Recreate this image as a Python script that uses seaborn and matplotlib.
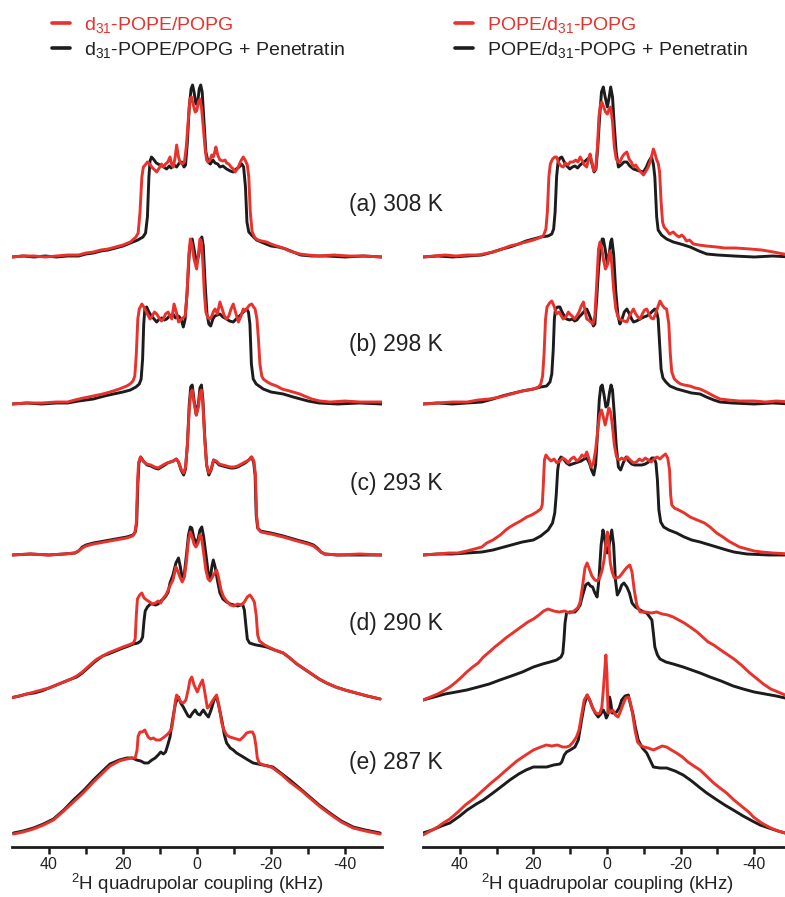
import numpy as np
import pandas as pd
import matplotlib
matplotlib.use("Agg")
import matplotlib.pyplot as plt
import seaborn as sns
from matplotlib.lines import Line2D

sns.set_theme(style="white")
plt.rcParams["font.family"] = ["Liberation Sans", "DejaVu Sans"]
plt.rcParams["mathtext.fontset"] = "custom"
plt.rcParams["mathtext.rm"] = "Liberation Sans"

RED = "#e8322b"
BLACK = "#1c1c1c"

# Row labels (temperature series) and vertical stacking of the spectra
row_labels = ["(a) 308 K", "(b) 298 K", "(c) 293 K", "(d) 290 K", "(e) 287 K"]
row_offsets = [590, 443, 292, 142, 7]

tick_values = [40, 30, 20, 10, 0, -10, -20, -30, -40]
tick_labels = ["40", "", "20", "", "0", "", "-20", "", "-40"]

# ---- d31-POPE/POPG (left column): (quadrupolar coupling kHz, intensity) ----
pope_308 = [(50, 0), (47, 1), (44, 1), (41, 0), (38, 1), (35, 2), (32, 2), (30, 4), (28, 5), (26, 7),
            (24, 8), (22, 10), (20, 12), (18, 15), (16.5, 20), (15.9, 24), (15.4, 45), (14.9, 80),
            (14.5, 90), (14.0, 92), (13.4, 95), (12.8, 93), (12, 89), (11.4, 87), (10.9, 85),
            (10.2, 89), (9.6, 93), (9.1, 90), (8.5, 93), (7.9, 95), (7.3, 100), (6.8, 92), (6.4, 90),
            (5.9, 100), (5.5, 112), (5.0, 100), (4.6, 95), (4.0, 93), (3.4, 95), (2.9, 110),
            (2.4, 135), (1.9, 158), (1.5, 160), (1.0, 152), (0.5, 145), (0.1, 146), (-0.4, 155),
            (-0.8, 158), (-1.2, 150), (-1.7, 130), (-2.2, 108), (-2.6, 97), (-3.0, 95), (-3.5, 97),
            (-4.0, 102), (-4.4, 100), (-4.8, 105), (-5.1, 110), (-5.6, 102), (-6.2, 97), (-7.0, 96),
            (-7.6, 97), (-8.0, 94), (-8.6, 93), (-9.2, 90), (-9.8, 88), (-10.3, 85), (-10.9, 88),
            (-11.5, 93), (-12.0, 97), (-12.5, 100), (-13.0, 97), (-13.6, 92), (-14.0, 80),
            (-14.4, 45), (-14.9, 25), (-15.7, 19), (-16.5, 17), (-17.5, 16), (-18.8, 15), (-20, 13),
            (-21.5, 11), (-23.3, 9), (-25, 6), (-27.8, 3), (-30, 2), (-33, 1), (-37, 2), (-41, 1),
            (-45, 1), (-50, 0)]
pope_pen_308 = [(50, 0), (47, 1), (44, 0), (41, 1), (38, 0), (35, 1), (32, 1), (30, 3), (28, 4), (26, 6),
                (24, 7), (22, 9), (20, 11), (18, 14), (16, 17), (14.6, 20), (13.9, 24), (13.4, 40),
                (13.0, 80), (12.7, 96), (12.3, 100), (11.8, 98), (11, 94), (10, 92), (9, 90), (8.2, 88),
                (7.5, 91), (7, 89), (6.2, 92), (5.5, 90), (4.8, 94), (4.1, 95), (3.5, 90), (3.1, 92),
                (2.6, 115), (2.1, 150), (1.6, 168), (1.2, 172), (0.8, 165), (0.3, 153), (-0.2, 155),
                (-0.6, 168), (-1.0, 172), (-1.4, 165), (-1.9, 135), (-2.4, 105), (-3.0, 95), (-3.6, 93),
                (-4.3, 97), (-4.9, 94), (-5.6, 93), (-6.2, 90), (-7, 91), (-8, 88), (-9, 86), (-9.8, 85),
                (-10.6, 88), (-11.4, 90), (-12.1, 93), (-12.6, 90), (-13.1, 70), (-13.5, 35), (-14, 25),
                (-15, 21), (-16.1, 17), (-18, 14), (-20, 11), (-22, 10), (-24, 8), (-26, 5), (-28, 2),
                (-31, 1), (-35, 1), (-40, 0), (-45, 1), (-50, 0)]

pope_298 = [(50, 0), (46, 1), (42, 1), (38, 2), (35, 2), (33, 4), (30.7, 6), (28, 8), (25.5, 10),
            (23.5, 12), (21, 15), (19, 18), (18.1, 20), (17.3, 23), (16.8, 28), (16.4, 50), (16.0, 85),
            (15.6, 95), (14.9, 100), (14.2, 96), (13.4, 90), (12.7, 85), (12.1, 88), (11.5, 92),
            (10.9, 90), (10.2, 86), (9.6, 83), (9.1, 85), (8.5, 90), (7.8, 92), (7.3, 88), (6.8, 85),
            (6.2, 100), (5.6, 92), (5, 82), (4.4, 84), (3.8, 86), (3.2, 88), (2.7, 110), (2.2, 150),
            (1.8, 165), (1.4, 160), (0.8, 145), (0.1, 135), (-0.4, 150), (-0.8, 165), (-1.2, 162),
            (-1.6, 140), (-2.0, 110), (-2.4, 92), (-3.0, 86), (-3.5, 85), (-4.0, 88), (-4.5, 93),
            (-4.9, 95), (-5.5, 90), (-6.2, 102), (-6.8, 95), (-7.4, 88), (-8, 85), (-8.6, 88),
            (-9.2, 95), (-9.8, 100), (-10.4, 92), (-11.2, 82), (-11.9, 88), (-12.5, 95), (-13, 93),
            (-13.6, 96), (-14.2, 99), (-14.8, 100), (-15.3, 97), (-15.7, 95), (-16.2, 85), (-16.6, 65),
            (-17.0, 40), (-17.5, 28), (-17.9, 25), (-19, 22), (-20, 20), (-21.5, 18), (-23, 15),
            (-25, 13), (-27.8, 10), (-29, 8), (-31, 5), (-33.2, 3), (-36, 2), (-40, 3), (-44, 2),
            (-47, 2), (-50, 2)]
pope_pen_298 = [(50, 0), (46, 1), (42, 0), (38, 1), (35, 1), (32, 3), (30, 4), (28, 5), (25, 8),
                (22.6, 10), (20, 12), (18, 14), (16.5, 17), (15.6, 20), (15.1, 25), (14.7, 45),
                (14.4, 80), (14.1, 95), (13.6, 97), (13, 92), (12.3, 88), (11.6, 85), (10.9, 82),
                (10.2, 85), (9.5, 86), (8.8, 84), (8.2, 85), (7.4, 88), (6.5, 90), (5.8, 86), (5, 88),
                (4.3, 85), (3.7, 77), (3.2, 85), (2.7, 110), (2.1, 150), (1.7, 163), (1.3, 165),
                (0.8, 155), (0.1, 140), (-0.5, 150), (-0.9, 163), (-1.3, 167), (-1.7, 158), (-2.2, 120),
                (-2.7, 90), (-3.2, 80), (-3.7, 78), (-4.3, 85), (-4.8, 88), (-5.5, 89), (-6.2, 90),
                (-7, 87), (-8, 85), (-8.8, 83), (-9.8, 82), (-10.6, 85), (-11.5, 88), (-12.5, 92),
                (-13.4, 95), (-13.9, 92), (-14.3, 80), (-14.7, 40), (-15.2, 25), (-16, 20), (-17.9, 15),
                (-20, 12), (-23.3, 10), (-26, 7), (-28, 5), (-30, 3), (-33, 1), (-38, 0), (-44, 1),
                (-50, 0)]

pope_293 = [(50, 0), (45, 1), (40, 0), (36, 1), (33, 2), (32, 4), (31, 7), (30, 9), (28, 11), (25, 13),
            (22, 15), (19, 17), (17.4, 19), (16.8, 22), (16.4, 32), (16.1, 70), (15.8, 92), (15.3, 98),
            (14.6, 94), (13.6, 91), (12.5, 90), (11.4, 88), (10.5, 87), (9.6, 89), (8.7, 91), (8, 92),
            (7.2, 93), (6.4, 94), (5.6, 96), (5.0, 93), (4.3, 86), (3.6, 82), (3.1, 88), (2.6, 110),
            (2.1, 145), (1.7, 162), (1.3, 165), (0.8, 152), (0.2, 140), (-0.4, 148), (-0.8, 162),
            (-1.2, 165), (-1.6, 150), (-2.1, 115), (-2.6, 90), (-3.2, 82), (-3.8, 86), (-4.5, 95),
            (-5.2, 94), (-6.0, 91), (-7, 90), (-8, 89), (-9, 88), (-10, 88), (-11, 89), (-12, 91),
            (-13, 93), (-14, 95), (-14.8, 98), (-15.4, 94), (-15.8, 80), (-16.1, 40), (-16.5, 26),
            (-17.3, 23), (-18.5, 22), (-20, 21), (-23.3, 18), (-27, 14), (-30, 11), (-31.5, 9),
            (-32.5, 6), (-33.5, 3), (-34.5, 1), (-38, 0), (-44, 1), (-50, 0)]
pope_pen_293 = [(50, 0), (45, 1), (40, 0), (36, 1), (33, 2), (32, 4), (31, 8), (30, 10), (28, 12),
                (25, 14), (22, 16), (19, 18), (17.3, 20), (16.7, 23), (16.3, 32), (16.0, 70), (15.7, 92),
                (15.2, 98), (14.5, 94), (13.5, 90), (12.5, 89), (11.4, 87), (10.5, 86), (9.6, 88),
                (8.7, 90), (8, 92), (7.2, 93), (6.4, 94), (5.6, 96), (5.0, 93), (4.3, 85), (3.6, 80),
                (3.1, 86), (2.6, 110), (2.1, 150), (1.7, 168), (1.3, 170), (0.8, 155), (0.2, 140),
                (-0.4, 152), (-0.8, 167), (-1.2, 170), (-1.6, 155), (-2.1, 118), (-2.6, 90), (-3.2, 80),
                (-3.8, 85), (-4.5, 95), (-5.2, 93), (-6.0, 90), (-7, 89), (-8, 88), (-9, 87), (-10, 87),
                (-11, 88), (-12, 90), (-13, 92), (-14, 95), (-14.7, 98), (-15.3, 93), (-15.7, 80),
                (-16.0, 40), (-16.4, 27), (-17.2, 24), (-18.5, 23), (-20, 22), (-23.3, 19), (-27, 15),
                (-30, 12), (-31.5, 10), (-32.5, 7), (-33.5, 3), (-34.5, 1), (-38, 0), (-44, 0),
                (-50, 0)]

pope_290 = [(50.5, 7), (48, 9), (46, 11), (44, 13), (42, 15), (40, 17), (38, 20), (36, 23), (34, 26),
            (32.5, 29), (31, 33), (29.5, 38), (28, 43), (27, 46), (25.5, 49), (24, 52), (22, 55),
            (20, 58), (18.5, 60), (17.2, 62), (16.7, 66), (16.4, 90), (16.1, 106), (15.5, 110),
            (14.9, 112), (14.3, 107), (13.6, 105), (12.8, 103), (12.0, 101), (11.2, 102), (10.5, 104),
            (9.8, 102), (9.1, 107), (8.4, 110), (7.8, 115), (7.2, 120), (6.5, 125), (6.0, 133),
            (5.7, 138), (5.2, 134), (4.6, 128), (4.0, 123), (3.4, 128), (2.9, 142), (2.3, 165),
            (1.8, 173), (1.3, 168), (0.8, 161), (0.3, 158), (-0.3, 162), (-0.8, 170), (-1.2, 168),
            (-1.8, 152), (-2.4, 135), (-3.0, 126), (-3.5, 124), (-4.0, 127), (-4.6, 131), (-5.3, 135),
            (-5.8, 128), (-6.5, 115), (-7.2, 108), (-8, 104), (-9, 100), (-10, 99), (-11, 101),
            (-12, 100), (-12.8, 103), (-13.6, 108), (-14.3, 110), (-14.9, 107), (-15.5, 103),
            (-16.0, 90), (-16.4, 70), (-16.9, 64), (-17.9, 61), (-18.8, 59), (-21, 55), (-23.3, 52),
            (-25.1, 47), (-27, 41), (-29, 36), (-31, 31), (-33, 26), (-35, 22), (-37.5, 18),
            (-40, 15), (-43, 12), (-46, 9), (-49.5, 6)]
pope_pen_290 = [(50.5, 7), (48, 9), (46, 11), (44, 12), (42, 14), (40, 17), (38, 20), (36, 23),
                (34, 26), (32.5, 28), (31, 32), (29.5, 37), (28, 42), (27, 45), (25.5, 49), (24, 51),
                (22, 54), (20, 57), (18.5, 59), (17.2, 61), (16, 62), (15.2, 64), (14.7, 68),
                (14.3, 85), (14.0, 94), (13.4, 98), (12.6, 101), (12, 101), (11.2, 100), (10.5, 101),
                (9.8, 104), (9.1, 106), (8.4, 109), (7.8, 113), (7.3, 122), (6.5, 130), (5.7, 142),
                (5.0, 147), (4.5, 138), (3.9, 125), (3.4, 132), (2.8, 152), (2.3, 170), (1.8, 178),
                (1.4, 177), (0.9, 168), (0.3, 162), (-0.3, 166), (-0.8, 175), (-1.3, 178), (-1.8, 168),
                (-2.5, 148), (-3.1, 130), (-3.6, 126), (-4.0, 138), (-4.4, 145), (-4.9, 138),
                (-5.5, 125), (-6.2, 112), (-7, 106), (-8.0, 103), (-9, 101), (-10, 100), (-11, 99),
                (-11.8, 100), (-12.3, 101), (-12.8, 95), (-13.2, 80), (-13.6, 66), (-14.2, 62),
                (-15, 61), (-16, 60), (-17.5, 59), (-18.8, 58), (-21, 55), (-23.3, 52), (-25.1, 47),
                (-27, 41), (-29, 36), (-31, 31), (-33, 26), (-35, 22), (-37.5, 18), (-40, 15),
                (-43, 12), (-46, 9), (-49.5, 6)]

pope_287 = [(49.6, 6), (47, 8), (44.2, 11), (41.5, 15), (38.8, 20), (36, 29), (33.4, 38), (30.5, 48),
            (28, 58), (25.5, 67), (23.5, 74), (21, 79), (19, 81), (17.5, 82), (16.7, 82), (16.2, 90),
            (15.9, 104), (15.4, 108), (14.8, 108), (14.1, 110), (13.6, 106), (13.2, 103), (12.5, 101),
            (11.8, 102), (11, 100), (10, 100), (9.2, 102), (8.2, 105), (7.4, 108), (6.8, 112),
            (6.3, 125), (5.8, 140), (5.5, 145), (5.0, 142), (4.4, 138), (3.7, 137), (3.0, 140),
            (2.4, 150), (1.9, 160), (1.4, 163), (0.8, 155), (-0.1, 148), (-0.8, 155), (-1.5, 160),
            (-2.1, 148), (-2.8, 132), (-3.4, 134), (-4, 138), (-4.7, 142), (-5.3, 145), (-5.9, 135),
            (-6.7, 117), (-7.3, 110), (-8, 105), (-8.9, 103), (-9.8, 102), (-10.7, 101), (-11.6, 100),
            (-12.5, 103), (-13.4, 107), (-14.2, 108), (-15, 108), (-15.5, 104), (-15.9, 95),
            (-16.3, 82), (-16.8, 77), (-17.9, 75), (-19.2, 74), (-20.5, 72), (-23, 65), (-25.1, 58),
            (-28, 50), (-30.5, 42), (-33, 34), (-35.9, 26), (-39, 18), (-42.2, 12), (-45.5, 9),
            (-49.5, 6)]
pope_pen_287 = [(49.6, 7), (47, 9), (44.2, 12), (41.5, 16), (38.8, 21), (36, 30), (33.4, 40), (30.5, 50),
                (28, 60), (25.5, 69), (23.5, 76), (21, 80), (19, 82), (17.5, 82), (16.3, 80), (15.2, 79),
                (14.2, 77), (13.2, 77), (12.2, 80), (11.3, 82), (10.5, 85), (9.8, 88), (9.1, 86),
                (8.5, 88), (7.9, 95), (7.3, 103), (6.6, 120), (5.8, 137), (5.0, 143), (4.4, 137),
                (3.7, 133), (3.0, 128), (2.4, 124), (1.9, 123), (1.2, 127), (0.5, 130), (-0.2, 126),
                (-0.8, 125), (-1.3, 128), (-1.7, 130), (-2.4, 126), (-3.1, 123), (-3.8, 130),
                (-4.6, 140), (-5.3, 143), (-5.9, 134), (-6.7, 120), (-7.4, 105), (-8, 97), (-9, 92),
                (-9.8, 90), (-10.7, 87), (-11.6, 85), (-12.5, 83), (-13.8, 80), (-15.2, 77),
                (-16.5, 76), (-17.9, 75), (-19.2, 74), (-20.5, 73), (-23, 66), (-25.1, 60), (-28, 51),
                (-30.5, 43), (-33, 35), (-35.9, 27), (-39, 19), (-42.2, 13), (-45.5, 10), (-49.5, 7)]

# ---- POPE/d31-POPG (right column) ----
popg_308 = [(50, 0), (47, 1), (44, 2), (41, 1), (38, 2), (35, 2), (33.6, 3), (31, 5), (28.5, 8),
            (26.4, 11), (24, 13), (22, 15), (20, 17), (18.5, 19), (17.3, 21), (16.6, 28), (16.2, 45),
            (15.8, 80), (15.4, 93), (14.8, 98), (14.2, 100), (13.7, 100), (13.1, 94), (12.5, 91),
            (11.9, 90), (11.3, 94), (10.6, 92), (10, 95), (9.2, 95), (8.5, 97), (7.9, 95), (7.3, 100),
            (6.7, 96), (6.1, 92), (5.5, 90), (5.0, 98), (4.6, 103), (4.1, 95), (3.6, 86), (3.1, 88),
            (2.6, 110), (2.2, 140), (1.8, 152), (1.4, 155), (0.9, 150), (0.4, 145), (-0.1, 143),
            (-0.6, 148), (-1.0, 150), (-1.5, 135), (-2.0, 110), (-2.5, 98), (-3.0, 95), (-3.5, 95),
            (-4.1, 100), (-4.7, 103), (-5.4, 105), (-6.0, 98), (-6.6, 95), (-7.2, 90), (-7.8, 92),
            (-8.5, 88), (-9.2, 85), (-9.9, 82), (-10.6, 86), (-11.2, 90), (-11.7, 95), (-12.2, 102),
            (-12.6, 108), (-13.0, 104), (-13.5, 97), (-13.9, 94), (-14.3, 85), (-14.7, 55),
            (-15.1, 35), (-15.5, 30), (-16.2, 27), (-17, 23), (-18, 25), (-18.8, 22), (-19.6, 20),
            (-20.3, 22), (-20.9, 20), (-21.6, 16), (-22.4, 17), (-23.5, 13), (-25, 12), (-27, 11),
            (-29.8, 10), (-32, 9), (-35, 9), (-38.9, 8), (-42, 7), (-45.2, 5), (-48, 3), (-50, 2)]
popg_pen_308 = [(50, 0), (46, 1), (42, 0), (38, 1), (34, 2), (31, 5), (28.5, 8), (26.4, 10), (24, 13),
                (22, 16), (20, 18), (18, 20), (16, 21), (15, 23), (14.5, 28), (14.1, 45), (13.7, 80),
                (13.3, 95), (12.8, 99), (12.3, 100), (11.6, 95), (10.9, 91), (10.1, 88), (9.4, 90),
                (8.7, 91), (8, 89), (7.3, 92), (6.6, 94), (5.9, 96), (5.3, 98), (4.6, 100), (4.0, 92),
                (3.5, 85), (3.0, 88), (2.5, 110), (2.0, 140), (1.5, 165), (1.0, 170), (0.5, 160),
                (-0.1, 150), (-0.6, 160), (-1.0, 170), (-1.5, 160), (-2.0, 130), (-2.5, 105),
                (-3.1, 90), (-3.8, 92), (-4.6, 95), (-5.4, 95), (-6.2, 91), (-7.2, 88), (-8, 87),
                (-8.8, 86), (-9.9, 85), (-10.7, 90), (-11.4, 96), (-12.1, 100), (-12.6, 93),
                (-13.0, 80), (-13.5, 40), (-13.9, 27), (-14.8, 22), (-16.2, 18), (-18, 15), (-20, 13),
                (-22.6, 10), (-25, 6), (-27.1, 3), (-30, 2), (-34.5, 1), (-40, 0), (-45, 1), (-50, 0)]

popg_298 = [(50, 0), (46, 1), (42, 2), (38, 2), (35, 4), (32, 5), (29, 7), (26, 10), (23, 13), (20, 15),
            (18.6, 17), (18.0, 20), (17.5, 28), (17.1, 50), (16.7, 85), (16.3, 97), (15.6, 101),
            (15.0, 103), (14.4, 98), (13.7, 90), (13, 92), (12.4, 88), (11.9, 85), (11.2, 87),
            (10.5, 92), (10.1, 90), (9.5, 88), (8.8, 85), (8.2, 88), (7.6, 92), (7.0, 98), (6.4, 102),
            (5.9, 92), (5.5, 85), (5.0, 84), (4.4, 82), (3.8, 80), (3.3, 88), (2.8, 120), (2.3, 155),
            (1.9, 162), (1.4, 155), (0.9, 143), (0.4, 135), (-0.2, 140), (-0.6, 150), (-0.9, 153),
            (-1.3, 140), (-1.8, 115), (-2.4, 95), (-3.1, 86), (-3.8, 84), (-4.6, 83), (-5.4, 82),
            (-6.1, 88), (-6.7, 92), (-7.2, 95), (-7.8, 90), (-8.4, 87), (-9, 85), (-9.6, 90),
            (-10.2, 94), (-10.8, 95), (-11.4, 90), (-12, 86), (-12.6, 85), (-13.2, 90), (-13.8, 97),
            (-14.4, 103), (-15.0, 99), (-15.6, 96), (-16.2, 95), (-16.8, 80), (-17.2, 50),
            (-17.6, 32), (-18.3, 25), (-19.2, 22), (-20, 20), (-21, 19), (-22.5, 18), (-24, 16),
            (-25.3, 15), (-27, 12), (-29, 8), (-30.7, 5), (-33, 4), (-36, 3), (-40, 3), (-43, 2),
            (-46, 3), (-50, 2)]
popg_pen_298 = [(50, 0), (46, 1), (42, 0), (38, 1), (34, 2), (31, 5), (28.5, 8), (26.4, 10), (23, 13),
                (20, 15), (18, 17), (16.4, 18), (15.5, 22), (15.0, 30), (14.6, 55), (14.3, 85),
                (14.0, 95), (13.4, 97), (12.8, 97), (12.2, 92), (11.6, 88), (11, 85), (10.2, 84),
                (9.4, 85), (8.8, 83), (8.2, 84), (7.6, 87), (6.8, 90), (6.1, 93), (5.5, 95), (4.9, 90),
                (4.3, 84), (3.7, 78), (3.3, 80), (2.8, 105), (2.3, 135), (1.8, 155), (1.3, 165),
                (1.0, 165), (0.5, 155), (-0.1, 140), (-0.6, 150), (-1.0, 162), (-1.3, 165), (-1.8, 150),
                (-2.4, 112), (-3.0, 88), (-3.5, 80), (-4.0, 84), (-4.7, 92), (-5.4, 95), (-6.1, 90),
                (-6.7, 85), (-7.2, 82), (-8, 83), (-9, 85), (-10, 87), (-10.8, 88), (-11.6, 90),
                (-12.4, 93), (-13, 95), (-13.5, 92), (-13.9, 85), (-14.3, 60), (-14.7, 35),
                (-15.2, 26), (-16, 22), (-17.1, 18), (-19, 15), (-21, 13), (-23, 11), (-25.3, 10),
                (-27, 7), (-29, 4), (-30.7, 2), (-34, 1), (-40, 0), (-45, 1), (-50, 0)]

popg_293 = [(50, 0), (46, 1), (43, 2), (40.5, 2), (38.1, 4), (36, 6), (34, 8), (32.7, 12), (31, 15),
            (29, 20), (27.5, 25), (26.4, 28), (25, 31), (23.5, 34), (21.8, 38), (20.5, 40), (19.1, 43),
            (18.0, 46), (17.6, 50), (17.3, 70), (17.0, 95), (16.6, 100), (16.0, 97), (15.2, 94),
            (14.4, 96), (13.6, 92), (12.8, 94), (12, 97), (11.2, 95), (10.5, 92), (9.8, 96), (9.0, 98),
            (8.2, 94), (7.5, 96), (6.8, 100), (6.1, 98), (5.5, 103), (4.9, 96), (4.3, 88), (3.7, 92),
            (3.1, 105), (2.5, 125), (2.0, 140), (1.5, 145), (1.0, 138), (0.5, 130), (0.0, 138),
            (-0.5, 147), (-1.0, 143), (-1.5, 128), (-2.0, 110), (-2.6, 98), (-3.3, 95), (-4.0, 97),
            (-4.8, 95), (-5.5, 98), (-6.3, 95), (-7.2, 92), (-8, 93), (-8.8, 96), (-9.6, 94),
            (-10.4, 97), (-11.2, 95), (-12, 93), (-12.8, 96), (-13.6, 98), (-14.4, 96), (-15.2, 99),
            (-15.9, 101), (-16.5, 97), (-17.0, 85), (-17.3, 60), (-17.6, 50), (-18.3, 47), (-19.5, 45),
            (-21, 42), (-22.6, 38), (-24.5, 35), (-26.5, 32), (-28, 28), (-29.8, 22), (-31.5, 18),
            (-33, 14), (-34.5, 11), (-36, 8), (-38, 6), (-40, 4), (-42, 3), (-45, 2), (-50, 1)]
popg_pen_293 = [(50, 0), (46, 1), (42, 1), (38, 2), (34, 3), (31, 5), (29, 7), (26, 10), (23, 13),
                (20, 15), (18, 19), (16, 25), (14.8, 32), (14.2, 42), (13.8, 60), (13.4, 85),
                (13.0, 95), (12.5, 98), (11.8, 96), (11, 92), (10.2, 90), (9.4, 91), (8.6, 92),
                (7.8, 93), (7.0, 94), (6.2, 96), (5.5, 97), (4.8, 92), (4.2, 85), (3.6, 80), (3.1, 90),
                (2.6, 120), (2.1, 155), (1.7, 168), (1.3, 170), (0.8, 160), (0.3, 148), (-0.2, 150),
                (-0.7, 163), (-1.1, 170), (-1.5, 165), (-2.0, 140), (-2.5, 110), (-3.1, 88), (-3.7, 85),
                (-4.4, 92), (-5.2, 98), (-5.9, 94), (-6.7, 91), (-7.5, 90), (-8.5, 90), (-9.5, 90),
                (-10.4, 91), (-11.3, 93), (-12.2, 97), (-12.8, 97), (-13.3, 92), (-13.7, 75),
                (-14.1, 45), (-14.6, 33), (-15.4, 28), (-16.8, 25), (-18.9, 22), (-21, 18), (-23, 15),
                (-25.3, 13), (-28, 10), (-30.7, 7), (-32.5, 5), (-34.5, 3), (-38, 1), (-44, 0), (-50, 0)]

popg_290 = [(50, 5), (48, 8), (46, 11), (44.5, 14), (42.7, 18), (41, 23), (39.5, 28), (38.1, 33),
            (36.5, 38), (35, 42), (33.6, 48), (32, 53), (30.5, 58), (29.1, 62), (27.5, 67), (26, 71),
            (24.5, 75), (23, 79), (21.5, 83), (20, 86), (18.5, 90), (17.2, 94), (16, 96), (14.5, 94),
            (13, 93), (11.5, 94), (10.2, 92), (9.4, 93), (8.6, 95), (7.8, 98), (7.3, 103), (6.6, 120),
            (6.0, 137), (5.4, 142), (4.8, 136), (4.1, 129), (3.3, 125), (2.6, 124), (1.9, 128),
            (1.3, 135), (0.8, 145), (0.3, 162), (-0.1, 173), (-0.5, 160), (-0.9, 142), (-1.4, 133),
            (-2.0, 127), (-2.6, 127), (-3.3, 128), (-4.0, 131), (-4.8, 135), (-5.5, 138), (-6.2, 140),
            (-6.8, 133), (-7.4, 115), (-8.1, 100), (-9, 93), (-10.5, 93), (-12, 92), (-13.5, 93),
            (-15, 91), (-16.5, 90), (-18, 88), (-19.5, 85), (-21, 82), (-22.6, 78), (-24.5, 73),
            (-26, 68), (-27.5, 63), (-29, 60), (-30.5, 56), (-32.5, 51), (-34.5, 46), (-36.5, 40),
            (-38.5, 33), (-40.5, 27), (-42.5, 21), (-44.5, 16), (-46.5, 13), (-48.4, 10), (-50, 9)]
popg_pen_290 = [(50, 5), (47, 8), (44, 11), (41, 13), (38.1, 15), (35, 18), (32, 21), (29.1, 25),
                (26, 29), (23, 33), (20, 38), (17.5, 41), (15.5, 43), (13.7, 45), (12.5, 48),
                (12.0, 52), (11.7, 65), (11.4, 82), (11.0, 92), (10.2, 93), (9.4, 93), (8.7, 93),
                (8.0, 96), (7.3, 100), (6.6, 110), (5.8, 120), (5.1, 122), (4.5, 119), (3.9, 118),
                (3.3, 112), (2.7, 108), (2.2, 125), (1.6, 160), (1.1, 175), (0.7, 168), (0.2, 155),
                (-0.1, 152), (-0.4, 155), (-0.8, 165), (-1.3, 175), (-1.8, 160), (-2.3, 125),
                (-2.8, 110), (-3.4, 114), (-4.0, 120), (-4.6, 122), (-5.4, 118), (-6.1, 112),
                (-6.8, 102), (-7.7, 98), (-9, 95), (-10, 93), (-10.8, 92), (-11.6, 88), (-12.2, 85),
                (-12.6, 72), (-13.0, 58), (-13.7, 50), (-14.4, 46), (-16, 43), (-18, 41), (-20.7, 38),
                (-23, 35), (-25.3, 32), (-28, 28), (-31, 24), (-34.3, 19), (-37, 16), (-40, 13),
                (-43, 11), (-46, 9), (-48.4, 7), (-50, 6)]

popg_287 = [(50, 5), (48, 9), (46, 13), (44.5, 17), (42.7, 21), (40.5, 28), (38.5, 35), (36, 42),
            (33.6, 50), (31.5, 57), (29.5, 63), (28, 68), (26.4, 73), (24.5, 79), (22.5, 84), (20, 90),
            (18, 93), (16.5, 95), (15, 94), (13.5, 95), (12, 93), (11, 93), (10.2, 94), (9.2, 98),
            (8.3, 103), (7.6, 110), (6.9, 125), (6.2, 140), (5.4, 145), (4.7, 140), (4.0, 133),
            (3.3, 128), (2.6, 126), (1.9, 127), (1.4, 133), (1.0, 150), (0.6, 170), (0.3, 185),
            (0.0, 165), (-0.3, 127), (-0.9, 128), (-1.6, 130), (-2.3, 125), (-3.0, 123), (-3.6, 128),
            (-4.3, 135), (-5.1, 142), (-5.8, 143), (-6.4, 137), (-7.0, 125), (-7.6, 110), (-8.3, 98),
            (-9, 95), (-10, 93), (-11.2, 92), (-12.6, 90), (-13.8, 92), (-15, 94), (-16.2, 93),
            (-17.5, 90), (-18.9, 87), (-20.5, 83), (-22, 78), (-23.6, 74), (-25.3, 70), (-27, 64),
            (-29, 57), (-30.7, 52), (-32.5, 47), (-34.5, 40), (-36.5, 34), (-38.5, 28), (-39.8, 23),
            (-42, 17), (-44.5, 12), (-46.5, 9), (-48.4, 7), (-50, 5)]
popg_pen_287 = [(50, 7), (47.5, 10), (45, 14), (42.7, 17), (40, 24), (38, 30), (35.5, 36), (33.6, 40),
                (31, 47), (28.5, 54), (26.4, 60), (24, 66), (22, 70), (20, 73), (18, 73), (16.4, 73),
                (14.5, 75), (12.8, 76), (12.3, 78), (11.6, 85), (11, 88), (10, 90), (8.7, 93),
                (7.8, 100), (6.9, 120), (6.2, 135), (5.4, 145), (4.7, 140), (4, 133), (3.2, 127),
                (2.4, 123), (1.7, 126), (1.0, 130), (0.5, 126), (0.2, 122), (-0.2, 125), (-0.7, 143),
                (-1.0, 138), (-1.4, 127), (-2.0, 127), (-2.6, 128), (-3.3, 132), (-4, 140), (-4.9, 144),
                (-5.8, 145), (-6.4, 135), (-7, 127), (-7.7, 113), (-8.5, 100), (-9.6, 92), (-10.8, 87),
                (-11.7, 80), (-12.6, 73), (-14.4, 72), (-16.2, 72), (-18.5, 69), (-20.7, 65), (-23, 59),
                (-25, 53), (-27.1, 47), (-29.5, 41), (-32, 35), (-34.3, 30), (-37, 24), (-39.5, 19),
                (-41.6, 15), (-44, 12), (-46.5, 9), (-48.4, 7), (-50, 6)]

left_series = [(pope_pen_308, pope_308), (pope_pen_298, pope_298), (pope_pen_293, pope_293),
               (pope_pen_290, pope_290), (pope_pen_287, pope_287)]
right_series = [(popg_pen_308, popg_308), (popg_pen_298, popg_298), (popg_pen_293, popg_293),
                (popg_pen_290, popg_290), (popg_pen_287, popg_287)]

legend_left = ["d$\\mathregular{_{31}}$-POPE/POPG", "d$\\mathregular{_{31}}$-POPE/POPG + Penetratin"]
legend_right = ["POPE/d$\\mathregular{_{31}}$-POPG", "POPE/d$\\mathregular{_{31}}$-POPG + Penetratin"]
x_label = "$\\mathregular{^{2}}$H quadrupolar coupling (kHz)"


def trace_frame(points, offset):
    khz, val = zip(*points)
    return pd.DataFrame({"kHz": khz, "signal": np.asarray(val, float) + offset})


W, H = 785, 897
fig = plt.figure(figsize=(W / 100, H / 100), dpi=100)
ax_l = fig.add_axes([12 / W, 50 / H, 370 / W, 787 / H])
ax_r = fig.add_axes([423 / W, 50 / H, 368 / W, 787 / H])

for ax, series in ((ax_l, left_series), (ax_r, right_series)):
    for (pen, neat), off in zip(series, row_offsets):
        for pts, col in ((pen, BLACK), (neat, RED)):
            sns.lineplot(data=trace_frame(pts, off), x="kHz", y="signal", sort=False,
                         estimator=None, color=col, lw=2.1, ax=ax)
    ax.set_xlim(50, -50)
    ax.set_ylim(0, 787)
    ax.set_ylabel("")
    ax.set_yticks([])
    for s in ("left", "right", "top"):
        ax.spines[s].set_visible(False)
    ax.spines["bottom"].set_linewidth(2.0)
    ax.spines["bottom"].set_color(BLACK)
    ax.set_xticks(tick_values)
    ax.set_xticklabels(tick_labels)
    ax.tick_params(axis="x", direction="out", length=5, width=1.8, color=BLACK,
                   labelsize=11.5, pad=2, labelcolor="#222222", bottom=True)
    ax.set_xlabel(x_label, fontsize=13.5, color="#222222", labelpad=0)
    ax.patch.set_alpha(0)

# Temperature labels between the columns
label_y = [204, 344, 483, 623, 763]
for txt, yy in zip(row_labels, label_y):
    fig.text(396 / W, 1 - yy / H, txt, ha="center", va="center", fontsize=16.5, color="#222222")

# Legends
for labels, x0 in ((legend_left, 52), (legend_right, 455)):
    handles = [Line2D([], [], color=RED, lw=2.6), Line2D([], [], color=BLACK, lw=2.6)]
    lg = fig.legend(handles, labels, loc="upper left", bbox_to_anchor=(x0 / W, 1 - 15 / H),
                    frameon=False, fontsize=14, handlelength=0.95, handletextpad=0.7,
                    labelspacing=0.25, borderpad=0, borderaxespad=0)
    lg.get_texts()[0].set_color(RED)
    lg.get_texts()[1].set_color("#222222")

fig.savefig("out.png", dpi=100)
